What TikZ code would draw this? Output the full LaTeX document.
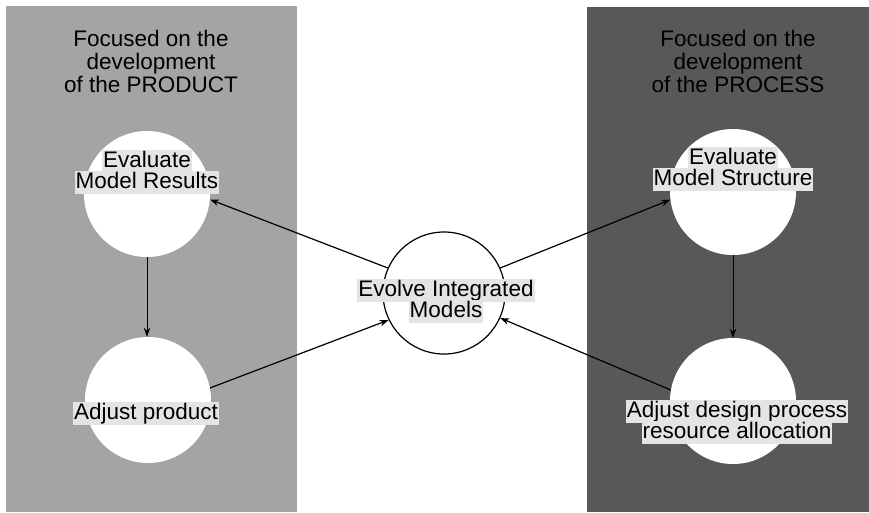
\documentclass[tikz,border=0pt]{standalone}
\usepackage{fontspec}
\setmainfont{Liberation Sans}
\usetikzlibrary{arrows.meta}
\definecolor{productbg}{HTML}{A4A4A4}
\definecolor{processbg}{HTML}{585858}
\definecolor{labelbg}{HTML}{E4E4E4}
% one highlighted line of a circle label; its reported size is kept small
% so that the lines keep the plain baseline distance
\newcommand\hlline[1]{\raisebox{0pt}[12pt][3pt]{\setlength\fboxsep{1pt}\colorbox{labelbg}{\rule[-4.8pt]{0pt}{17pt}#1}}}
\begin{document}
\begin{tikzpicture}[x=1pt,y=-1pt,
  stage/.style={circle, fill=white, minimum size=126pt, inner sep=0pt},
  hub/.style={circle, draw, fill=white, line width=1.2pt, minimum size=122pt, inner sep=0pt},
  flow/.style={-{Stealth[length=9pt,width=6.5pt]}, line width=1.2pt},
  heading/.style={align=center, font=\fontsize{22.5}{23}\selectfont, inner sep=0pt},
  label/.style={align=center, font=\fontsize{22.5}{21}\selectfont, inner sep=0pt}]
\useasboundingbox (0,0) rectangle (869,512);

% the two focus areas
\fill[productbg] (6,6) rectangle (297,512);
\fill[processbg] (587,7) rectangle (869,512);

\node[heading] (prodhead) at (151,61) {Focused on the\\development\\of the PRODUCT};
\node[heading] (prochead) at (738,61) {Focused on the\\development\\of the PROCESS};

% activity circles
\node[stage] (res) at (147,194) {};
\node[stage] (prod) at (148,400) {};
\node[stage] (str) at (733,192) {};
\node[stage] (alloc) at (733,401) {};
\node[hub] (evolve) at (444,293) {};

% connectors
\draw[flow, line width=1pt] (res.south) -- (res.south |- prod.north);
\draw[flow, line width=1pt] (str.south) -- (str.south |- alloc.north);
\draw[flow] (evolve.156) -- (res.-5);
\draw[flow] (prod.11) -- (evolve.206);
\draw[flow] (evolve.24) -- (str.187);
\draw[flow] (alloc.170) -- (evolve.336);

% circle labels
\node[label] (resl) at (147,173) {\hlline{Evaluate}\\\hlline{Model Results}};
\node[label] (prodl) at (146,415) {\hlline{Adjust product}};
\node[label] (strl) at (733,170) {\hlline{Evaluate}\\\hlline{Model Structure}};
\node[label] (allocl) at (737,423) {\hlline{Adjust design process}\\\hlline{resource allocation}};
\node[label] (evolvel) at (446,302) {\hlline{Evolve Integrated}\\\hlline{Models}};
\end{tikzpicture}
\end{document}
